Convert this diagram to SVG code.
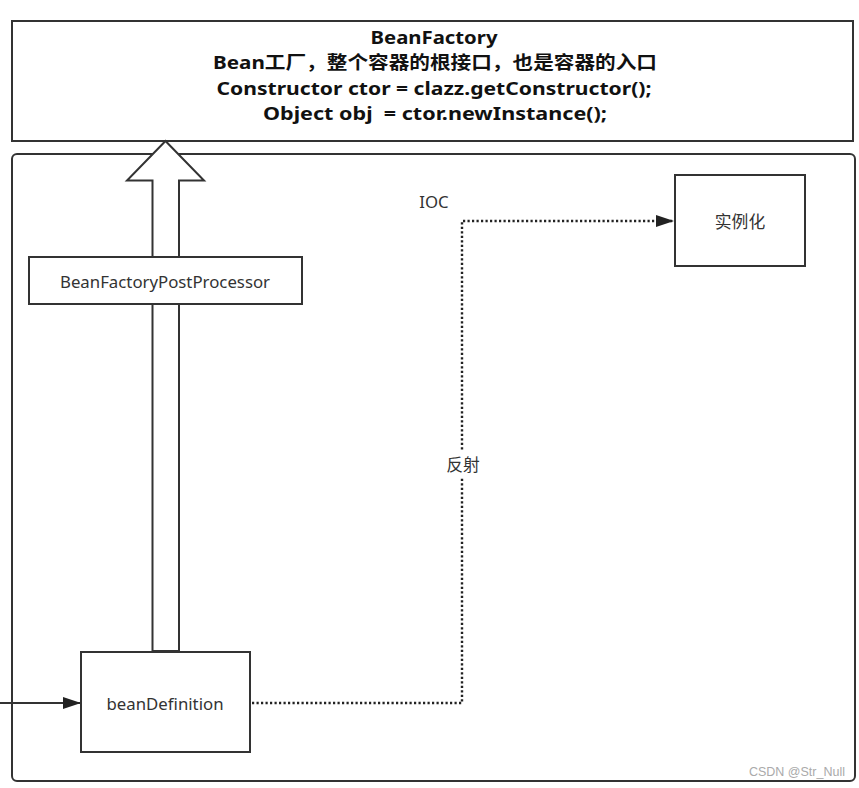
<svg xmlns="http://www.w3.org/2000/svg" width="859" height="788" viewBox="0 0 859 788">
<style>
.box{fill:#fff;stroke:#333;stroke-width:2}
.t{font-family:"Noto Sans","Noto Sans CJK SC",sans-serif;font-size:16.8px;fill:#333;text-anchor:middle;dominant-baseline:central}
.tb{font-family:"Noto Sans","Noto Sans CJK SC",sans-serif;font-size:18.5px;font-weight:bold;fill:#111;text-anchor:middle;dominant-baseline:central}
.dot{fill:none;stroke:#222;stroke-width:2.4;stroke-dasharray:2.2 2.3}
</style>
<defs>
<marker id="ah" markerWidth="18" markerHeight="12" refX="17" refY="6" orient="auto" markerUnits="userSpaceOnUse">
<path d="M0,0 L18,6 L0,12 Z" fill="#222"/>
</marker>
</defs>
<rect width="859" height="788" fill="#fff"/>
<g id="container">
<rect x="12" y="154" width="843" height="627" rx="5" class="box"/>
</g>
<g id="beanFactory">
<rect x="12" y="21" width="841" height="120" class="box"/>
<text x="434" y="36" class="tb" textLength="127" lengthAdjust="spacingAndGlyphs">BeanFactory</text>
<text x="435" y="61" class="tb" textLength="444" lengthAdjust="spacingAndGlyphs">Bean工厂，整个容器的根接口，也是容器的入口</text>
<text x="434" y="87" class="tb" textLength="435" lengthAdjust="spacingAndGlyphs">Constructor ctor = clazz.getConstructor();</text>
<text x="435" y="112" class="tb" xml:space="preserve" textLength="344" lengthAdjust="spacingAndGlyphs">Object obj  = ctor.newInstance();</text>
</g>
<g id="connectors">
<path d="M165.5,141 L204,180.5 L179,180.5 L179,651 L152.5,651 L152.5,180.5 L127,180.5 Z" fill="#fff" stroke="#333" stroke-width="2" stroke-linejoin="miter"/>
<line x1="0" y1="703" x2="80" y2="703" stroke="#333" stroke-width="2" marker-end="url(#ah)"/>
<polyline points="252,703 462,703 462,221 673,221" class="dot" marker-end="url(#ah)"/>
<rect x="443" y="451" width="40" height="26" fill="#fff"/>
<text x="463" y="464" class="t">反射</text>
<text x="434" y="201" class="t">IOC</text>
</g>
<g id="beanFactoryPostProcessor">
<rect x="29" y="257" width="273" height="47" class="box"/>
<text x="165" y="281" class="t">BeanFactoryPostProcessor</text>
</g>
<g id="beanDefinition">
<rect x="81" y="652" width="169" height="100" class="box"/>
<text x="165" y="703" class="t">beanDefinition</text>
</g>
<g id="instantiate">
<rect x="675" y="175" width="130" height="91" class="box"/>
<text x="740" y="221" class="t">实例化</text>
</g>
<text x="845" y="772" font-family="'Liberation Sans',sans-serif" font-size="12.5" fill="#aaa" text-anchor="end" dominant-baseline="central">CSDN @Str_Null</text>
</svg>
